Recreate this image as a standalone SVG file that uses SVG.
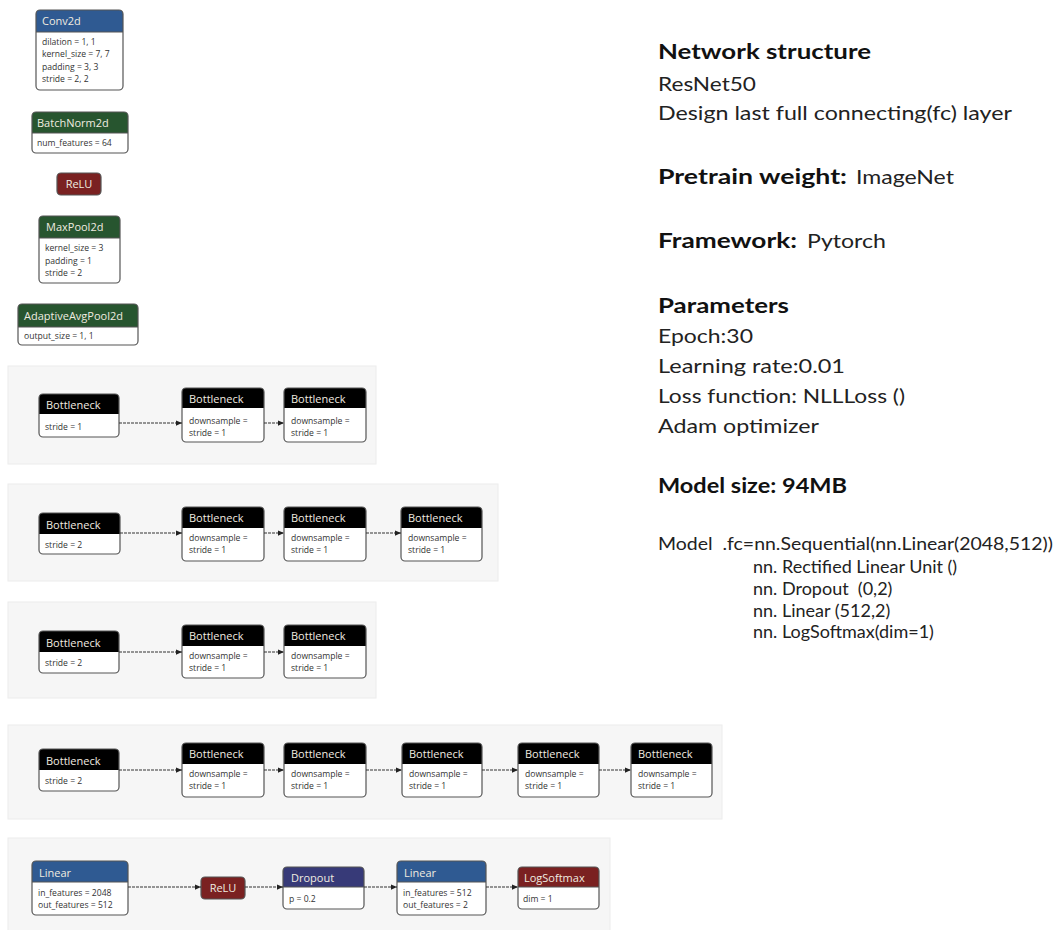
<svg xmlns="http://www.w3.org/2000/svg" width="1057" height="930" viewBox="0 0 1057 930">
<defs>
<style>
.panel{fill:#f6f6f6;stroke:#ececec;stroke-width:1}
.box{fill:#ffffff}
.bd{fill:none;stroke:#555;stroke-width:1.2}
.sep{stroke:#555;stroke-width:1}
.ht{font-family:"Open Sans",sans-serif;font-size:11px;fill:#f0ece0}
.bt{font-family:"Open Sans",sans-serif;font-size:8.6px;fill:#333}
.blue{fill:#2f5a92}
.green{fill:#27552f}
.red{fill:#7a2121}
.black{fill:#000}
.purple{fill:#373a78}
.edge{stroke:#333;stroke-width:1;stroke-dasharray:3 1;fill:none;marker-end:url(#ah)}
.h{font-family:Lato,"Open Sans",sans-serif;font-size:20px;font-weight:bold;fill:#111}
.t{font-family:Lato,"Open Sans",sans-serif;font-size:20px;fill:#222}
.c{font-family:Lato,"Open Sans",sans-serif;font-size:18px;fill:#222}
</style>
<marker id="ah" viewBox="0 0 8 8" refX="8" refY="4" markerWidth="6" markerHeight="6" orient="auto" markerUnits="userSpaceOnUse">
<path d="M0,0.5 L8,4 L0,7.5 Z" fill="#222"/>
</marker>
</defs>
<rect width="1057" height="930" fill="#ffffff"/>

<!-- panels -->
<g id="panels">
<rect class="panel" x="8" y="366" width="368" height="98"/>
<rect class="panel" x="8" y="484" width="490" height="97"/>
<rect class="panel" x="8" y="602" width="368" height="96"/>
<rect class="panel" x="8" y="725" width="714" height="94"/>
<rect class="panel" x="8" y="838" width="602" height="100"/>
</g>

<!-- top stack -->
<g id="conv2d">
<rect class="box" x="36" y="10" width="87" height="80" rx="4"/>
<path class="blue" d="M36,32 V14 Q36,10 40,10 H119 Q123,10 123,14 V32 Z"/>
<line class="sep" x1="36" y1="32" x2="123" y2="32"/>
<rect class="bd" x="36" y="10" width="87" height="80" rx="4"/>
<text class="ht" x="42" y="25">Conv2d</text>
<text class="bt" x="42" y="45">dilation = 1, 1</text>
<text class="bt" x="42" y="57">kernel_size = 7, 7</text>
<text class="bt" x="42" y="70">padding = 3, 3</text>
<text class="bt" x="42" y="82">stride = 2, 2</text>
</g>
<g id="batchnorm2d">
<rect class="box" x="32" y="112" width="96" height="41" rx="4"/>
<path class="green" d="M32,133 V116 Q32,112 36,112 H124 Q128,112 128,116 V133 Z"/>
<line class="sep" x1="32" y1="133" x2="128" y2="133"/>
<rect class="bd" x="32" y="112" width="96" height="41" rx="4"/>
<text class="ht" x="37" y="127">BatchNorm2d</text>
<text class="bt" x="37" y="146">num_features = 64</text>
</g>
<g id="relu1">
<rect class="red" x="57" y="173" width="44" height="22" rx="4" stroke="#555" stroke-width="1.2"/>
<text class="ht" x="79" y="188" text-anchor="middle">ReLU</text>
</g>
<g id="maxpool2d">
<rect class="box" x="39" y="216" width="81" height="67" rx="4"/>
<path class="green" d="M39,238 V220 Q39,216 43,216 H116 Q120,216 120,220 V238 Z"/>
<line class="sep" x1="39" y1="238" x2="120" y2="238"/>
<rect class="bd" x="39" y="216" width="81" height="67" rx="4"/>
<text class="ht" x="46" y="231">MaxPool2d</text>
<text class="bt" x="45" y="251">kernel_size = 3</text>
<text class="bt" x="45" y="264">padding = 1</text>
<text class="bt" x="45" y="276">stride = 2</text>
</g>
<g id="adaptiveavgpool2d">
<rect class="box" x="18" y="304" width="120" height="41" rx="4"/>
<path class="green" d="M18,327 V308 Q18,304 22,304 H134 Q138,304 138,308 V327 Z"/>
<line class="sep" x1="18" y1="327" x2="138" y2="327"/>
<rect class="bd" x="18" y="304" width="120" height="41" rx="4"/>
<text class="ht" x="24" y="320">AdaptiveAvgPool2d</text>
<text class="bt" x="24" y="339">output_size = 1, 1</text>
</g>

<!-- row 1 -->
<g id="r1n1">
<rect class="box" x="39" y="394" width="80" height="43" rx="4"/>
<path class="black" d="M39,414 V398 Q39,394 43,394 H115 Q119,394 119,398 V414 Z"/>
<rect class="bd" x="39" y="394" width="80" height="43" rx="4"/>
<text class="ht" x="46" y="409">Bottleneck</text>
<text class="bt" x="45" y="430">stride = 1</text>
</g>
<g id="r1n2">
<rect class="box" x="182" y="388" width="82" height="54" rx="4"/>
<path class="black" d="M182,408 V392 Q182,388 186,388 H260 Q264,388 264,392 V408 Z"/>
<rect class="bd" x="182" y="388" width="82" height="54" rx="4"/>
<text class="ht" x="189" y="403">Bottleneck</text>
<text class="bt" x="189" y="424">downsample =</text>
<text class="bt" x="189" y="436">stride = 1</text>
</g>
<g id="r1n3">
<rect class="box" x="284" y="388" width="82" height="54" rx="4"/>
<path class="black" d="M284,408 V392 Q284,388 288,388 H362 Q366,388 366,392 V408 Z"/>
<rect class="bd" x="284" y="388" width="82" height="54" rx="4"/>
<text class="ht" x="291" y="403">Bottleneck</text>
<text class="bt" x="291" y="424">downsample =</text>
<text class="bt" x="291" y="436">stride = 1</text>
</g>

<!-- row 2 -->
<g id="r2n1">
<rect class="box" x="39" y="513" width="81" height="41" rx="4"/>
<path class="black" d="M39,534 V517 Q39,513 43,513 H116 Q120,513 120,517 V534 Z"/>
<rect class="bd" x="39" y="513" width="81" height="41" rx="4"/>
<text class="ht" x="46" y="529">Bottleneck</text>
<text class="bt" x="45" y="548">stride = 2</text>
</g>
<g id="r2n2">
<rect class="box" x="182" y="507" width="82" height="54" rx="4"/>
<path class="black" d="M182,528 V511 Q182,507 186,507 H260 Q264,507 264,511 V528 Z"/>
<rect class="bd" x="182" y="507" width="82" height="54" rx="4"/>
<text class="ht" x="189" y="522">Bottleneck</text>
<text class="bt" x="189" y="541">downsample =</text>
<text class="bt" x="189" y="553">stride = 1</text>
</g>
<g id="r2n3">
<rect class="box" x="284" y="507" width="82" height="54" rx="4"/>
<path class="black" d="M284,528 V511 Q284,507 288,507 H362 Q366,507 366,511 V528 Z"/>
<rect class="bd" x="284" y="507" width="82" height="54" rx="4"/>
<text class="ht" x="291" y="522">Bottleneck</text>
<text class="bt" x="291" y="541">downsample =</text>
<text class="bt" x="291" y="553">stride = 1</text>
</g>
<g id="r2n4">
<rect class="box" x="401" y="507" width="81" height="54" rx="4"/>
<path class="black" d="M401,528 V511 Q401,507 405,507 H478 Q482,507 482,511 V528 Z"/>
<rect class="bd" x="401" y="507" width="81" height="54" rx="4"/>
<text class="ht" x="408" y="522">Bottleneck</text>
<text class="bt" x="408" y="541">downsample =</text>
<text class="bt" x="408" y="553">stride = 1</text>
</g>

<!-- row 3 -->
<g id="r3n1">
<rect class="box" x="39" y="631" width="80" height="42" rx="4"/>
<path class="black" d="M39,652 V635 Q39,631 43,631 H115 Q119,631 119,635 V652 Z"/>
<rect class="bd" x="39" y="631" width="80" height="42" rx="4"/>
<text class="ht" x="46" y="647">Bottleneck</text>
<text class="bt" x="45" y="666">stride = 2</text>
</g>
<g id="r3n2">
<rect class="box" x="182" y="625" width="82" height="53" rx="4"/>
<path class="black" d="M182,646 V629 Q182,625 186,625 H260 Q264,625 264,629 V646 Z"/>
<rect class="bd" x="182" y="625" width="82" height="53" rx="4"/>
<text class="ht" x="189" y="640">Bottleneck</text>
<text class="bt" x="189" y="659">downsample =</text>
<text class="bt" x="189" y="671">stride = 1</text>
</g>
<g id="r3n3">
<rect class="box" x="284" y="625" width="82" height="53" rx="4"/>
<path class="black" d="M284,646 V629 Q284,625 288,625 H362 Q366,625 366,629 V646 Z"/>
<rect class="bd" x="284" y="625" width="82" height="53" rx="4"/>
<text class="ht" x="291" y="640">Bottleneck</text>
<text class="bt" x="291" y="659">downsample =</text>
<text class="bt" x="291" y="671">stride = 1</text>
</g>

<!-- row 4 -->
<g id="r4n1">
<rect class="box" x="39" y="749" width="80" height="42" rx="4"/>
<path class="black" d="M39,770 V753 Q39,749 43,749 H115 Q119,749 119,753 V770 Z"/>
<rect class="bd" x="39" y="749" width="80" height="42" rx="4"/>
<text class="ht" x="46" y="765">Bottleneck</text>
<text class="bt" x="45" y="784">stride = 2</text>
</g>
<g id="r4n2">
<rect class="box" x="182" y="743" width="82" height="54" rx="4"/>
<path class="black" d="M182,764 V747 Q182,743 186,743 H260 Q264,743 264,747 V764 Z"/>
<rect class="bd" x="182" y="743" width="82" height="54" rx="4"/>
<text class="ht" x="189" y="758">Bottleneck</text>
<text class="bt" x="189" y="777">downsample =</text>
<text class="bt" x="189" y="789">stride = 1</text>
</g>
<g id="r4n3">
<rect class="box" x="284" y="743" width="82" height="54" rx="4"/>
<path class="black" d="M284,764 V747 Q284,743 288,743 H362 Q366,743 366,747 V764 Z"/>
<rect class="bd" x="284" y="743" width="82" height="54" rx="4"/>
<text class="ht" x="291" y="758">Bottleneck</text>
<text class="bt" x="291" y="777">downsample =</text>
<text class="bt" x="291" y="789">stride = 1</text>
</g>
<g id="r4n4">
<rect class="box" x="402" y="743" width="80" height="54" rx="4"/>
<path class="black" d="M402,764 V747 Q402,743 406,743 H478 Q482,743 482,747 V764 Z"/>
<rect class="bd" x="402" y="743" width="80" height="54" rx="4"/>
<text class="ht" x="409" y="758">Bottleneck</text>
<text class="bt" x="409" y="777">downsample =</text>
<text class="bt" x="409" y="789">stride = 1</text>
</g>
<g id="r4n5">
<rect class="box" x="518" y="743" width="81" height="54" rx="4"/>
<path class="black" d="M518,764 V747 Q518,743 522,743 H595 Q599,743 599,747 V764 Z"/>
<rect class="bd" x="518" y="743" width="81" height="54" rx="4"/>
<text class="ht" x="525" y="758">Bottleneck</text>
<text class="bt" x="525" y="777">downsample =</text>
<text class="bt" x="525" y="789">stride = 1</text>
</g>
<g id="r4n6">
<rect class="box" x="631" y="743" width="81" height="54" rx="4"/>
<path class="black" d="M631,764 V747 Q631,743 635,743 H708 Q712,743 712,747 V764 Z"/>
<rect class="bd" x="631" y="743" width="81" height="54" rx="4"/>
<text class="ht" x="638" y="758">Bottleneck</text>
<text class="bt" x="638" y="777">downsample =</text>
<text class="bt" x="638" y="789">stride = 1</text>
</g>

<!-- row 5 -->
<g id="linear1">
<rect class="box" x="32" y="861" width="96" height="54" rx="4"/>
<path class="blue" d="M32,882 V865 Q32,861 36,861 H124 Q128,861 128,865 V882 Z"/>
<line class="sep" x1="32" y1="882" x2="128" y2="882"/>
<rect class="bd" x="32" y="861" width="96" height="54" rx="4"/>
<text class="ht" x="39" y="877">Linear</text>
<text class="bt" x="38" y="896">in_features = 2048</text>
<text class="bt" x="38" y="908">out_features = 512</text>
</g>
<g id="relu2">
<rect class="red" x="201" y="877" width="44" height="22" rx="4" stroke="#555" stroke-width="1.2"/>
<text class="ht" x="223" y="892" text-anchor="middle">ReLU</text>
</g>
<g id="dropout">
<rect class="box" x="283" y="867" width="81" height="42" rx="4"/>
<path class="purple" d="M283,887 V871 Q283,867 287,867 H360 Q364,867 364,871 V887 Z"/>
<line class="sep" x1="283" y1="887" x2="364" y2="887"/>
<rect class="bd" x="283" y="867" width="81" height="42" rx="4"/>
<text class="ht" x="291" y="882">Dropout</text>
<text class="bt" x="289" y="902">p = 0.2</text>
</g>
<g id="linear2">
<rect class="box" x="397" y="861" width="89" height="54" rx="4"/>
<path class="blue" d="M397,882 V865 Q397,861 401,861 H482 Q486,861 486,865 V882 Z"/>
<line class="sep" x1="397" y1="882" x2="486" y2="882"/>
<rect class="bd" x="397" y="861" width="89" height="54" rx="4"/>
<text class="ht" x="404" y="877">Linear</text>
<text class="bt" x="403" y="896">in_features = 512</text>
<text class="bt" x="403" y="908">out_features = 2</text>
</g>
<g id="logsoftmax">
<rect class="box" x="518" y="867" width="81" height="42" rx="4"/>
<path class="red" d="M518,887 V871 Q518,867 522,867 H595 Q599,867 599,871 V887 Z"/>
<line class="sep" x1="518" y1="887" x2="599" y2="887"/>
<rect class="bd" x="518" y="867" width="81" height="42" rx="4"/>
<text class="ht" x="524" y="882">LogSoftmax</text>
<text class="bt" x="523" y="902">dim = 1</text>
</g>

<!-- connectors -->
<g id="connectors">
<line class="edge" x1="119" y1="423" x2="182" y2="423"/>
<line class="edge" x1="264" y1="423" x2="284" y2="423"/>
<line class="edge" x1="120" y1="533" x2="182" y2="533"/>
<line class="edge" x1="264" y1="533" x2="284" y2="533"/>
<line class="edge" x1="366" y1="533" x2="401" y2="533"/>
<line class="edge" x1="119" y1="652" x2="182" y2="652"/>
<line class="edge" x1="264" y1="652" x2="284" y2="652"/>
<line class="edge" x1="119" y1="770" x2="182" y2="770"/>
<line class="edge" x1="264" y1="770" x2="284" y2="770"/>
<line class="edge" x1="366" y1="770" x2="402" y2="770"/>
<line class="edge" x1="482" y1="770" x2="518" y2="770"/>
<line class="edge" x1="599" y1="770" x2="631" y2="770"/>
<line class="edge" x1="128" y1="887" x2="201" y2="887"/>
<line class="edge" x1="245" y1="887" x2="283" y2="887"/>
<line class="edge" x1="364" y1="887" x2="397" y2="887"/>
<line class="edge" x1="486" y1="887" x2="518" y2="887"/>
</g>

<!-- info text -->
<g id="info">
<text class="h" x="658" y="59" textLength="213" lengthAdjust="spacingAndGlyphs">Network structure</text>
<text class="t" x="658" y="91" textLength="98" lengthAdjust="spacingAndGlyphs">ResNet50</text>
<text class="t" x="658" y="120" textLength="354" lengthAdjust="spacingAndGlyphs">Design last full connecting(fc) layer</text>
<text class="h" x="658" y="184" textLength="189" lengthAdjust="spacingAndGlyphs">Pretrain  weight:</text>
<text class="t" x="856" y="184" textLength="98" lengthAdjust="spacingAndGlyphs">ImageNet</text>
<text class="h" x="658" y="248" textLength="139" lengthAdjust="spacingAndGlyphs">Framework:</text>
<text class="t" x="807" y="248" textLength="79" lengthAdjust="spacingAndGlyphs">Pytorch</text>
<text class="h" x="658" y="313" textLength="131" lengthAdjust="spacingAndGlyphs">Parameters</text>
<text class="t" x="658" y="343" textLength="95" lengthAdjust="spacingAndGlyphs">Epoch:30</text>
<text class="t" x="658" y="373" textLength="187" lengthAdjust="spacingAndGlyphs">Learning rate:0.01</text>
<text class="t" x="658" y="403" textLength="247" lengthAdjust="spacingAndGlyphs">Loss function: NLLLoss ()</text>
<text class="t" x="658" y="433" textLength="161" lengthAdjust="spacingAndGlyphs">Adam optimizer</text>
<text class="h" x="658" y="493" textLength="189" lengthAdjust="spacingAndGlyphs">Model size: 94MB</text>
<text class="c" x="658" y="550" textLength="395" lengthAdjust="spacingAndGlyphs" xml:space="preserve">Model  .fc=nn.Sequential(nn.Linear(2048,512))</text>
<text class="c" x="753" y="573">nn. Rectified Linear Unit ()</text>
<text class="c" x="753" y="595" xml:space="preserve">nn. Dropout  (0,2)</text>
<text class="c" x="753" y="617">nn. Linear (512,2)</text>
<text class="c" x="753" y="638">nn. LogSoftmax(dim=1)</text>
</g>
</svg>
